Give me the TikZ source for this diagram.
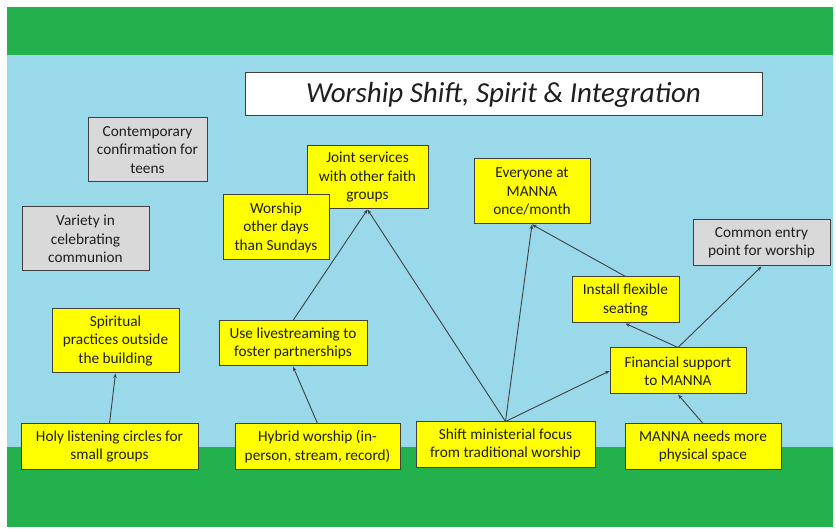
\documentclass[tikz,border=0pt]{standalone}
\usepackage{fontspec}
\setmainfont{Carlito}
\usetikzlibrary{arrows.meta}
\definecolor{bggreen}{RGB}{34,177,76}
\definecolor{bgblue}{RGB}{153,217,234}
\definecolor{boxyellow}{RGB}{255,255,0}
\definecolor{boxgray}{RGB}{217,217,217}
\definecolor{edgegray}{RGB}{64,64,64}
\definecolor{textgray}{RGB}{30,30,30}
\begin{document}
\begin{tikzpicture}[x=1pt,y=-1pt,
 box/.style={draw=edgegray, line width=1pt, align=center, inner sep=1pt, font=\fontsize{15.3}{18.5}\selectfont, text=textgray},
 ybox/.style={box, fill=boxyellow},
 gbox/.style={box, fill=boxgray},
 link/.style={draw=edgegray, line width=0.9pt, -{Stealth[length=4.5pt,width=3.5pt]}}]
\useasboundingbox (0,0) rectangle (836,529);
\fill[white] (0,0) rectangle (836,529);
\fill[bgblue] (7,55) rectangle (833,447);
\fill[bggreen] (7,7) rectangle (833,55);
\fill[bggreen] (7,447) rectangle (833,527);

\node[box, fill=white, minimum width=517pt, minimum height=43pt, font=\fontsize{29}{34}\selectfont\itshape] (title) at (503.5,94.5) {Worship Shift, Spirit \& Integration};

\node[gbox, minimum width=119pt, minimum height=64pt] (contemp) at (147.5,150) {Contemporary\\confirmation for\\teens};
\node[gbox, minimum width=127pt, minimum height=64pt] (variety) at (85.5,239) {Variety in\\celebrating\\communion};
\node[ybox, minimum width=121pt, minimum height=63pt] (joint) at (367.5,177.5) {Joint services\\with other faith\\groups};
\node[ybox, minimum width=106pt, minimum height=65pt] (wodays) at (276,227.5) {Worship\\other days\\than Sundays};
\node[ybox, minimum width=116pt, minimum height=65pt] (everyone) at (532,191.5) {Everyone at\\MANNA\\once/month};
\node[gbox, minimum width=137pt, minimum height=46pt] (common) at (761.5,243) {Common entry\\point for worship};
\node[ybox, minimum width=107pt, minimum height=46pt] (install) at (625.5,300) {Install flexible\\seating};
\node[ybox, minimum width=127pt, minimum height=64pt] (spiritual) at (115.5,341) {Spiritual\\practices outside\\the building};
\node[ybox, minimum width=148pt, minimum height=45pt] (live) at (293,343.5) {Use livestreaming to\\foster partnerships};
\node[ybox, minimum width=136pt, minimum height=46pt] (financial) at (678,371) {Financial support\\to MANNA};
\node[ybox, minimum width=177pt, minimum height=45pt] (holy) at (109.5,446.5) {Holy listening circles for\\small groups};
\node[ybox, minimum width=165pt, minimum height=45pt] (hybrid) at (317.5,446.5) {Hybrid worship (in-\\person, stream, record)};
\node[ybox, minimum width=179pt, minimum height=45pt] (shift) at (505.5,444.5) {Shift ministerial focus\\from traditional worship};
\node[ybox, minimum width=156pt, minimum height=45pt] (manna) at (703,446.5) {MANNA needs more\\physical space};

\draw[link] (holy.north) -- (spiritual.south);
\draw[link] (hybrid.north) -- (live.south);
\draw[link] (live.north) -- (joint.south);
\draw[link] (shift.north) -- (joint.south);
\draw[link] (shift.north) -- (everyone.south);
\draw[link] (shift.north) -- (financial.west);
\draw[link] (financial.north) -- (install.south);
\draw[link] (financial.north) -- (common.south);
\draw[link] (install.north) -- (everyone.south);
\draw[link] (manna.north) -- (financial.south);
\end{tikzpicture}
\end{document}
